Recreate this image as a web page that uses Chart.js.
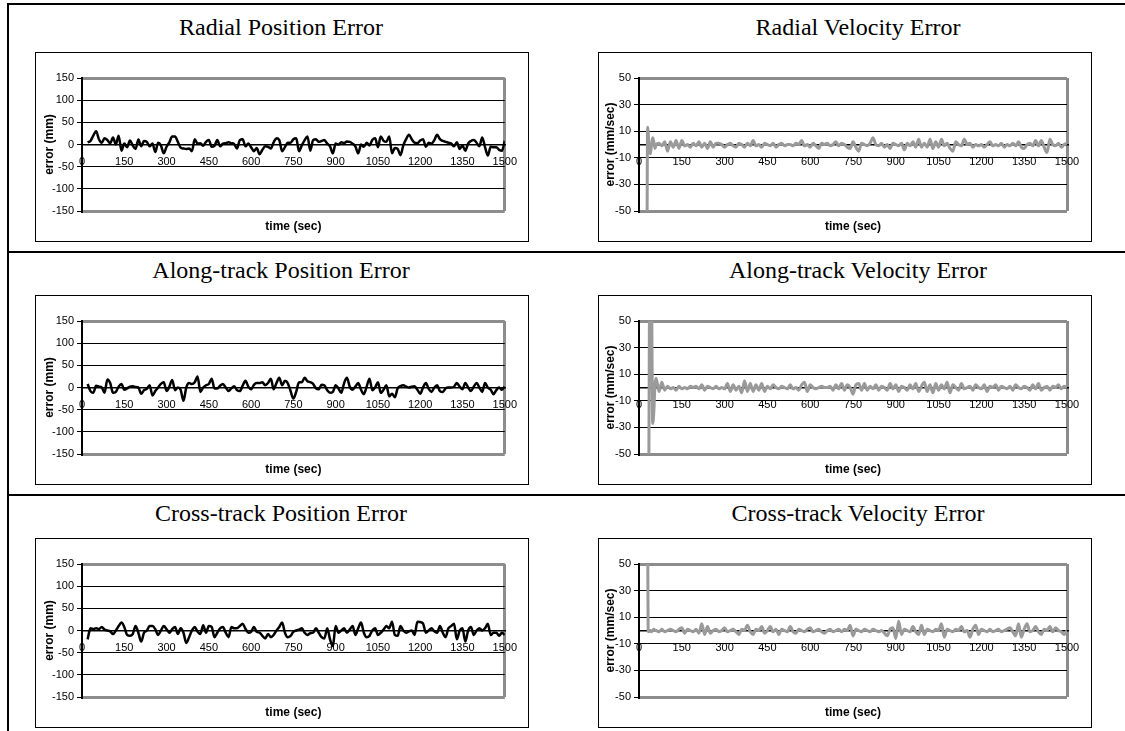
<!DOCTYPE html>
<html>
<head>
<meta charset="utf-8">
<script src="https://cdn.jsdelivr.net/npm/chart.js@4.4.1/dist/chart.umd.min.js"></script>
<style>
html, body { margin: 0; padding: 0; background: #fff; }
body { width: 1125px; height: 731px; position: relative; overflow: hidden; }
.hl { position: absolute; background: #000; height: 2px; }
.vl { position: absolute; background: #000; width: 2px; }
.ttl { position: absolute; width: 600px; text-align: center; font-family: 'Times New Roman', 'Liberation Serif', serif; font-size: 24px; line-height: 28px; color: #000; white-space: nowrap; }
.box { position: absolute; width: 492px; height: 188px; border: 1px solid #000; background: #fff; }
.box canvas { display: block; }
</style>
</head>
<body>
<div class="hl" style="left:7px;top:3px;width:1118px;"></div>
<div class="vl" style="left:7px;top:3px;height:728px;"></div>
<div class="hl" style="left:7px;top:251px;width:1118px;"></div>
<div class="hl" style="left:7px;top:494px;width:1118px;"></div>
<script>
// ---------- DATA ----------
const posTimes = [
  20,30,40,50,60,70,80,90,100,110,
  120,130,140,150,160,170,180,190,200,210,
  220,230,240,250,260,270,280,290,300,310,
  320,330,340,350,360,370,380,390,400,410,
  420,430,440,450,460,470,480,490,500,510,
  520,530,540,550,560,570,580,590,600,610,
  620,630,640,650,660,670,680,690,700,710,
  720,730,740,750,760,770,780,790,800,810,
  820,830,840,850,860,870,880,890,900,910,
  920,930,940,950,960,970,980,990,1000,1010,
  1020,1030,1040,1050,1060,1070,1080,1090,1100,1110,
  1120,1130,1140,1150,1160,1170,1180,1190,1200,1210,
  1220,1230,1240,1250,1260,1270,1280,1290,1300,1310,
  1320,1330,1340,1350,1360,1370,1380,1390,1400,1410,
  1420,1430,1440,1450,1460,1470,1480,1490,1500
];
const velTimes = [
  26,28,30,32,34,37,40,44,48,52,56,
  60,70,80,90,100,110,120,130,140,150,
  160,170,180,190,200,210,220,230,240,250,
  260,270,280,290,300,310,320,330,340,350,
  360,370,380,390,400,410,420,430,440,450,
  460,470,480,490,500,510,520,530,540,550,
  560,570,580,590,600,610,620,630,640,650,
  660,670,680,690,700,710,720,730,740,750,
  760,770,780,790,800,810,820,830,840,850,
  860,870,880,890,900,910,920,930,940,950,
  960,970,980,990,1000,1010,1020,1030,1040,1050,
  1060,1070,1080,1090,1100,1110,1120,1130,1140,1150,
  1160,1170,1180,1190,1200,1210,1220,1230,1240,1250,
  1260,1270,1280,1290,1300,1310,1320,1330,1340,1350,
  1360,1370,1380,1390,1400,1410,1420,1430,1440,1450,
  1460,1470,1480,1490,1500
];
const xTicks = [0,150,300,450,600,750,900,1050,1200,1350,1500];
const posYTicks = [-150,-100,-50,0,50,100,150];
const velYTicks = [-50,-30,-10,10,30,50];

const radialPos = [
  5,8,20,30,12,4,14,10,3,16,
  0,20,-14,2,-6,9,-2,-10,11,-4,
  8,6,-4,2,-17,4,-2,-20,-5,5,
  18,18,6,-7,-9,-10,-9,-15,12,2,
  3,-3,6,10,-5,-3,10,-4,2,3,
  5,3,1,-9,10,12,-4,2,-6,-15,
  -8,-22,-12,-4,-5,-9,5,14,10,-15,
  -6,4,4,12,14,-15,-2,10,18,-14,
  10,12,6,8,10,2,-4,-20,2,0,
  5,3,7,6,2,-4,-20,0,-5,4,
  -2,10,14,-6,18,8,6,18,-20,-8,
  -10,-24,-2,12,22,12,4,3,9,12,
  -5,4,2,10,22,12,8,6,4,2,
  -4,5,-10,-2,-14,2,8,10,4,-4,
  16,-6,-25,-5,-6,-6,-12,-14,8
];
const alongPos = [
  8,-8,-12,4,2,0,-12,18,10,-12,
  -10,2,8,-5,-2,2,3,1,0,-14,
  -6,-3,5,-18,-8,0,8,12,-8,2,
  17,-6,0,-5,-30,0,10,8,12,25,
  -10,0,5,8,20,-2,-2,4,8,0,
  -8,-2,3,-6,-8,4,15,2,-4,6,
  10,10,12,5,10,20,-4,10,22,5,
  15,10,-8,-25,-10,12,12,22,14,12,
  8,-2,-4,6,5,-6,-12,-10,5,-2,
  -12,10,22,2,-5,2,10,-5,-15,2,
  20,-6,0,12,-12,-5,5,-20,-14,-22,
  -2,3,5,2,0,2,3,-5,-14,0,
  10,-3,-10,0,5,-8,-10,-2,0,0,
  2,10,2,-4,10,0,-8,2,10,0,
  -10,10,0,-5,-15,-6,0,-5,2
];
const crossPos = [
  -20,5,3,5,3,8,2,0,-2,-8,
  0,10,18,8,-10,-12,-8,10,-5,-25,
  -5,0,10,10,3,-10,0,10,3,-5,
  3,8,-8,5,-5,-28,-15,0,8,-3,
  -8,12,-5,10,8,-15,-5,5,8,-5,
  -15,8,5,5,10,15,4,-5,-3,8,
  -3,-5,-12,-18,-8,-15,-10,0,8,18,
  -5,-15,-12,-3,0,2,5,-5,-10,-6,
  -5,5,-5,-15,-18,5,-20,-35,10,-5,
  0,5,-5,2,10,-10,5,18,-5,-15,
  -12,0,5,-10,-5,2,10,5,20,-10,
  -12,10,0,-5,-2,0,-10,20,19,16,
  -5,0,5,-2,-5,10,-5,-15,5,10,
  15,-20,0,5,-25,0,8,-10,0,5,
  0,5,15,-10,-5,-5,-12,-5,-10
];
const radialVel = [
  -90,-70,13,10,2,-5,-7,0,5,2,-3,
  0,1,-1,2,-5,2,-2,3,-3,3,
  -1,0,-2,1,-1,2,-2,1,-3,2,
  -2,1,1,0,-2,0,1,-1,-2,1,
  0,-2,1,-1,3,-1,0,-2,1,0,
  -1,1,-2,0,1,-1,0,0,-1,1,
  0,3,-1,0,-2,1,-1,-3,1,0,
  1,-1,0,2,-1,1,0,-2,-3,2,
  -2,-5,1,0,-1,1,5,0,-1,1,
  -2,0,-3,1,0,-1,1,-4,1,-1,
  2,-2,4,-2,1,-2,4,-3,2,-2,
  4,-1,1,-3,-5,2,0,-1,4,0,
  1,-2,0,-1,0,-2,0,2,-1,0,
  -1,1,-2,0,-1,1,-1,2,-2,-3,
  0,1,-1,3,-1,3,-2,-6,4,0,
  -1,1,-2,0,1
];
const alongVel = [
  -100,-100,-100,-100,-90,80,90,70,-27,-18,2,
  7,-3,4,-2,1,-1,0,-2,1,-1,
  0,-1,1,0,1,-1,2,-2,1,0,
  -1,1,-1,0,-1,3,-3,2,-2,1,
  -4,5,-3,3,-3,2,-2,3,-3,1,
  -1,2,0,-1,1,0,-1,2,-1,0,
  -2,2,4,-3,2,0,-1,0,1,0,
  0,1,-2,2,-1,3,-2,2,0,-5,
  2,3,-2,3,-2,1,-1,2,-2,1,
  0,-2,3,-1,2,-3,1,0,-2,2,
  -1,3,-3,1,4,-3,2,-4,3,-2,
  2,-1,4,-4,2,0,-2,3,-1,0,
  1,-2,2,0,-1,2,-3,1,0,2,
  -2,1,0,-1,1,-2,2,0,-1,1,
  0,-2,2,-1,3,-2,0,1,-2,1,
  0,2,-1,1,0
];
const crossVel = [
  100,100,90,0,-1,0,0,-1,0,1,0,
  0,-1,1,-1,0,1,0,-1,1,2,
  -2,1,0,-1,1,-2,5,-3,3,-2,
  0,1,-1,0,2,-1,0,1,-1,-3,
  1,0,4,-1,-3,1,0,3,-2,0,
  3,-1,1,-3,1,0,-1,3,-1,-2,
  1,0,-1,1,2,-1,0,1,-1,-2,
  0,1,-1,0,1,-1,1,0,4,-4,
  1,0,-1,1,0,-1,1,0,-1,0,
  -2,-4,1,2,-6,7,-3,1,0,-1,
  3,-1,-3,4,-3,1,0,-1,1,0,
  5,-5,1,0,-1,1,0,3,-1,0,
  -5,1,4,-3,1,0,-1,1,-1,0,
  1,-1,0,1,2,-1,-4,5,-5,1,
  5,-1,0,3,-1,-3,1,0,3,-1,
  2,0,-1,-3,0
];

const panelTitles = [
  'Radial Position Error', 'Radial Velocity Error',
  'Along-track Position Error', 'Along-track Velocity Error',
  'Cross-track Position Error', 'Cross-track Velocity Error'
];

// ---------- STYLE / LAYOUT ----------
const SANS = "Arial, 'Liberation Sans', Helvetica, sans-serif";
const FRAME = '#8c8c8c';
const ROW_STEP = 243;
const cols = [
  { boxLeft: 35, titleCenter: 281, axisW: 46, padRight: 23, yTitlePad: 6 },
  { boxLeft: 598, titleCenter: 858, axisW: 40, padRight: 24, yTitlePad: 4 }
];

const panels = [
  { times: posTimes, values: radialPos, kind: 'pos' },
  { times: velTimes, values: radialVel, kind: 'vel' },
  { times: posTimes, values: alongPos, kind: 'pos' },
  { times: velTimes, values: alongVel, kind: 'vel' },
  { times: posTimes, values: crossPos, kind: 'pos' },
  { times: velTimes, values: crossVel, kind: 'vel' }
];

const plain = v => String(v);

panels.forEach((p, i) => {
  const row = Math.floor(i / 2), col = cols[i % 2];
  const t = document.createElement('div');
  t.className = 'ttl';
  t.style.left = (col.titleCenter - 300) + 'px';
  t.style.top = (13 + row * ROW_STEP) + 'px';
  t.textContent = panelTitles[i];
  document.body.appendChild(t);

  const box = document.createElement('div');
  box.className = 'box';
  box.style.left = col.boxLeft + 'px';
  box.style.top = (52 + row * ROW_STEP) + 'px';
  const cv = document.createElement('canvas');
  cv.width = 492; cv.height = 188;
  box.appendChild(cv);
  document.body.appendChild(box);

  const isPos = p.kind === 'pos';
  const yt = isPos ? posYTicks : velYTicks;
  const yMin = yt[0], yMax = yt[yt.length - 1];
  const edge = v => v === yMin || v === yMax;

  new Chart(cv, {
    type: 'line',
    data: {
      datasets: [{
        data: p.times.map((tt, k) => ({ x: tt, y: p.values[k] })),
        borderColor: isPos ? '#000000' : '#9a9a9a',
        borderWidth: isPos ? 2.5 : 3,
        pointRadius: 0,
        cubicInterpolationMode: 'monotone',
        fill: false
      }]
    },
    options: {
      responsive: false,
      animation: false,
      devicePixelRatio: 1,
      layout: { padding: { left: 0, right: col.padRight, top: 25, bottom: 0 } },
      plugins: {
        legend: { display: false },
        tooltip: { enabled: false },
        title: {
          display: true, position: 'bottom', text: 'time (sec)', fullSize: false,
          color: '#000', font: { family: SANS, size: 12, weight: 'bold' },
          padding: { top: 8, bottom: 7.6 }
        }
      },
      scales: {
        x: {
          type: 'linear', min: xTicks[0], max: xTicks[xTicks.length - 1],
          position: { y: 0 },
          afterBuildTicks: s => { s.ticks = xTicks.map(v => ({ value: v })); },
          ticks: { autoSkip: false, maxRotation: 0, color: '#000', font: { family: SANS, size: 11 }, padding: 11, callback: plain },
          grid: {
            drawTicks: false,
            color: c => (c.tick && c.tick.value === xTicks[xTicks.length - 1]) ? FRAME : 'rgba(0,0,0,0)',
            lineWidth: 3
          },
          border: { display: true, color: '#000', width: 1.5 }
        },
        y: {
          type: 'linear', min: yMin, max: yMax,
          afterBuildTicks: s => { s.ticks = yt.map(v => ({ value: v })); },
          ticks: { color: '#000', font: { family: SANS, size: 11 }, padding: 3, callback: plain },
          grid: {
            color: c => (c.tick && edge(c.tick.value)) ? FRAME : '#000',
            lineWidth: c => (c.tick && edge(c.tick.value)) ? 3 : 1,
            tickLength: 5, tickColor: '#000', tickWidth: 1
          },
          border: { display: true, color: '#000', width: 2 },
          title: {
            display: true, text: isPos ? 'error (mm)' : 'error (mm/sec)',
            color: '#000', font: { family: SANS, size: 12, weight: 'bold' },
            padding: { top: col.yTitlePad, bottom: 0 }
          },
          afterFit: s => { s.width = col.axisW; }
        }
      }
    }
  });
});
</script>
</body>
</html>
